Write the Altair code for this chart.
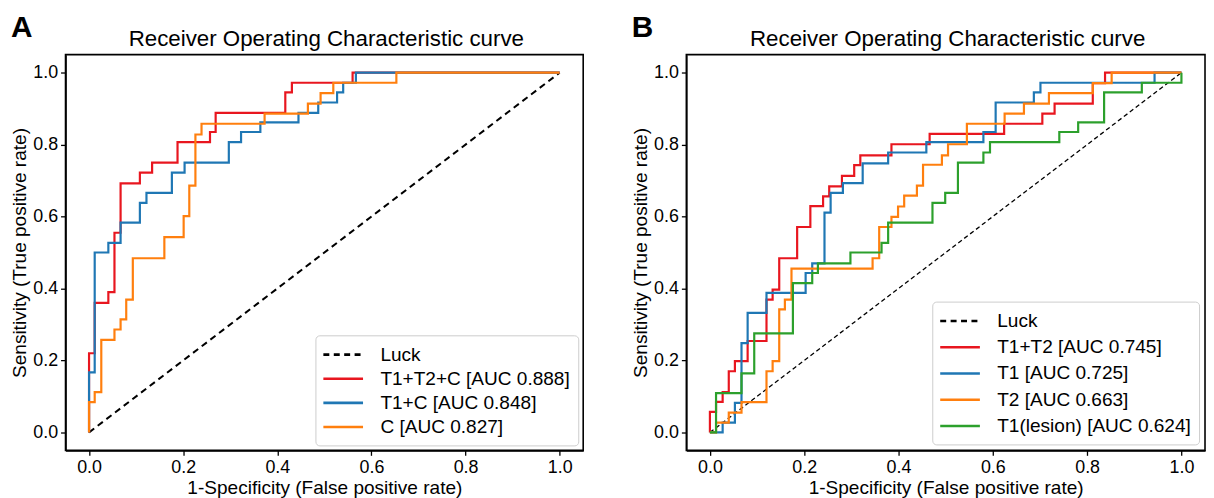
import altair as alt
import pandas as pd

FONT = "Liberation Sans"
TITLE = "Receiver Operating Characteristic curve"
X_TITLE = "1-Specificity (False positive rate)"
Y_TITLE = "Sensitivity (True positive rate)"
TICKS = [0.0, 0.2, 0.4, 0.6, 0.8, 1.0]
LUCK = "Luck"

# ---------------- Panel A ----------------
a_names = ["T1+T2+C [AUC 0.888]", "T1+C [AUC 0.848]", "C [AUC 0.827]"]
a_colors = ["#e8161f", "#1f77b4", "#ff7f0e"]

a_red_fpr = [0, 0, 0.012, 0.012, 0.041, 0.041, 0.054, 0.054, 0.067, 0.067, 0.108, 0.108,
             0.134, 0.134, 0.188, 0.188, 0.257, 0.257, 0.269, 0.269, 0.417, 0.417, 0.431,
             0.431, 0.56, 0.56, 1.0]
a_red_tpr = [0, 0.22, 0.22, 0.36, 0.36, 0.39, 0.39, 0.555, 0.555, 0.692, 0.692, 0.722,
             0.722, 0.75, 0.75, 0.807, 0.807, 0.835, 0.835, 0.888, 0.888, 0.945, 0.945,
             0.972, 0.972, 1.0, 1.0]

a_blue_fpr = [0, 0, 0.012, 0.012, 0.041, 0.041, 0.067, 0.067, 0.108, 0.108, 0.122, 0.122,
              0.176, 0.176, 0.203, 0.203, 0.297, 0.297, 0.323, 0.323, 0.364, 0.364, 0.445,
              0.445, 0.487, 0.487, 0.527, 0.527, 0.54, 0.54, 0.567, 0.567, 1.0]
a_blue_tpr = [0, 0.167, 0.167, 0.5, 0.5, 0.527, 0.527, 0.583, 0.583, 0.638, 0.638, 0.666,
              0.666, 0.722, 0.722, 0.75, 0.75, 0.807, 0.807, 0.835, 0.835, 0.862, 0.862,
              0.888, 0.888, 0.917, 0.917, 0.945, 0.945, 0.972, 0.972, 1.0, 1.0]

a_orange_fpr = [0, 0, 0.012, 0.012, 0.026, 0.026, 0.054, 0.054, 0.067, 0.067, 0.079, 0.079,
                0.093, 0.093, 0.160, 0.160, 0.201, 0.201, 0.213, 0.213, 0.226, 0.226, 0.239,
                0.239, 0.373, 0.373, 0.465, 0.465, 0.492, 0.492, 0.519, 0.519, 0.653, 0.653, 1.0]
a_orange_tpr = [0, 0.084, 0.084, 0.112, 0.112, 0.257, 0.257, 0.286, 0.286, 0.314, 0.314, 0.369,
                0.369, 0.484, 0.484, 0.543, 0.543, 0.601, 0.601, 0.686, 0.686, 0.828, 0.828,
                0.858, 0.858, 0.886, 0.886, 0.914, 0.914, 0.943, 0.943, 0.972, 0.972, 1.0, 1.0]

# ---------------- Panel B ----------------
b_names = ["T1+T2 [AUC 0.745]", "T1 [AUC 0.725]", "T2 [AUC 0.663]", "T1(lesion) [AUC 0.624]"]
b_colors = ["#e8161f", "#1f77b4", "#ff7f0e", "#2ca02c"]

b_red_fpr = [0, 0, 0.013, 0.013, 0.027, 0.027, 0.04, 0.04, 0.053, 0.053, 0.08, 0.08, 0.12, 0.12,
             0.133, 0.133, 0.147, 0.147, 0.185, 0.185, 0.213, 0.213, 0.24, 0.24, 0.253, 0.253,
             0.28, 0.28, 0.306, 0.306, 0.319, 0.319, 0.385, 0.385, 0.466, 0.466, 0.624, 0.624,
             0.705, 0.705, 0.731, 0.731, 0.812, 0.812, 0.838, 0.838, 1.0]
b_red_tpr = [0, 0.057, 0.057, 0.085, 0.085, 0.112, 0.112, 0.17, 0.17, 0.198, 0.198, 0.254, 0.254,
             0.369, 0.369, 0.397, 0.397, 0.484, 0.484, 0.571, 0.571, 0.629, 0.629, 0.656, 0.656,
             0.684, 0.684, 0.713, 0.713, 0.743, 0.743, 0.77, 0.77, 0.801, 0.801, 0.83, 0.83,
             0.858, 0.858, 0.886, 0.886, 0.914, 0.914, 0.971, 0.971, 1.0, 1.0]

b_blue_fpr = [0, 0.027, 0.027, 0.053, 0.053, 0.067, 0.067, 0.08, 0.08, 0.12, 0.12, 0.203, 0.203,
              0.217, 0.217, 0.243, 0.243, 0.256, 0.256, 0.282, 0.282, 0.324, 0.324, 0.378, 0.378,
              0.459, 0.459, 0.58, 0.58, 0.606, 0.606, 0.687, 0.687, 0.701, 0.701, 0.943, 0.943, 1.0]
b_blue_tpr = [0, 0, 0.027, 0.027, 0.082, 0.082, 0.248, 0.248, 0.332, 0.332, 0.388, 0.388, 0.443,
              0.443, 0.47, 0.47, 0.611, 0.611, 0.666, 0.666, 0.693, 0.693, 0.748, 0.748, 0.778,
              0.778, 0.807, 0.807, 0.835, 0.835, 0.917, 0.917, 0.945, 0.945, 0.972, 0.972, 1.0, 1.0]

b_orange_fpr = [0, 0.013, 0.013, 0.04, 0.04, 0.067, 0.067, 0.12, 0.12, 0.133, 0.133, 0.147, 0.147,
                0.159, 0.159, 0.173, 0.173, 0.345, 0.345, 0.359, 0.359, 0.385, 0.385, 0.399, 0.399,
                0.412, 0.412, 0.439, 0.439, 0.452, 0.452, 0.492, 0.492, 0.505, 0.505, 0.545, 0.545,
                0.625, 0.625, 0.666, 0.666, 0.719, 0.719, 0.812, 0.812, 0.852, 0.852, 1.0]
b_orange_tpr = [0, 0, 0.027, 0.027, 0.055, 0.055, 0.084, 0.084, 0.17, 0.17, 0.198, 0.198, 0.342,
                0.342, 0.369, 0.369, 0.455, 0.455, 0.484, 0.484, 0.571, 0.571, 0.599, 0.599, 0.628,
                0.628, 0.658, 0.658, 0.686, 0.686, 0.744, 0.744, 0.77, 0.77, 0.801, 0.801, 0.858,
                0.858, 0.886, 0.886, 0.914, 0.914, 0.943, 0.943, 0.971, 0.971, 1.0, 1.0]

b_green_fpr = [0, 0.013, 0.013, 0.067, 0.067, 0.094, 0.094, 0.176, 0.176, 0.217, 0.217, 0.229,
               0.229, 0.298, 0.298, 0.364, 0.364, 0.378, 0.378, 0.472, 0.472, 0.499, 0.499, 0.526,
               0.526, 0.58, 0.58, 0.594, 0.594, 0.741, 0.741, 0.781, 0.781, 0.836, 0.836, 0.916,
               0.916, 1.0, 1.0]
b_green_tpr = [0, 0, 0.109, 0.109, 0.164, 0.164, 0.275, 0.275, 0.415, 0.415, 0.443, 0.443, 0.47,
               0.47, 0.5, 0.5, 0.527, 0.527, 0.583, 0.583, 0.638, 0.638, 0.666, 0.666, 0.75, 0.75,
               0.778, 0.778, 0.807, 0.807, 0.835, 0.835, 0.862, 0.862, 0.945, 0.945, 0.972, 0.972,
               1.0]

luck_fpr = [0.0, 1.0]
luck_tpr = [0.0, 1.0]


def frame(names, curves):
    rows = []
    for name, (fx, ty) in zip(names, curves):
        for i, (f, t) in enumerate(zip(fx, ty)):
            rows.append({"series": name, "fpr": f, "tpr": t, "idx": i})
    return pd.DataFrame(rows)


def panel(letter, names, colors, curves, luck_width, luck_dash, row_pad, leg_offset, W, H):
    df = frame(names, curves)
    domain = [LUCK] + names
    color_scale = alt.Scale(domain=domain, range=["#000000"] + colors)
    dash_scale = alt.Scale(domain=domain, range=[[6, 4.5]] + [[1, 0]] * len(names))
    legend = alt.Legend(
        title=None, orient="bottom-right", offset=leg_offset, symbolType="M-2,0H2",
        symbolSize=400, symbolStrokeWidth=2.6, symbolOffset=8.5, symbolFillColor="transparent",
        labelFontSize=19.2, labelFont=FONT, labelColor="black", labelOffset=26,
        rowPadding=row_pad, padding=8, strokeColor="#cccccc", cornerRadius=4,
        fillColor="rgba(255,255,255,0.85)", labelLimit=400,
    )
    x = alt.X("fpr:Q", scale=alt.Scale(domain=[-0.05, 1.05], nice=False, zero=False),
              axis=alt.Axis(title=X_TITLE, values=TICKS, format=".1f"))
    y = alt.Y("tpr:Q", scale=alt.Scale(domain=[-0.05, 1.05], nice=False, zero=False),
              axis=alt.Axis(title=Y_TITLE, values=TICKS, format=".1f"))

    luck_df = pd.DataFrame({"fpr": luck_fpr, "tpr": luck_tpr, "idx": [0, 1]})
    luck = alt.Chart(luck_df).mark_line(
        color="black", strokeDash=luck_dash, strokeWidth=luck_width
    ).encode(x=x, y=y, order="idx:Q")

    layers = [luck]
    for n in names:
        layers.append(
            alt.Chart(df).transform_filter(alt.datum.series == n)
            .mark_line(strokeWidth=2.2)
            .encode(
                x=x, y=y, order="idx:Q",
                color=alt.Color("series:N", scale=color_scale, legend=legend),
                strokeDash=alt.StrokeDash("series:N", scale=dash_scale, legend=legend),
            )
        )
    txt_df = pd.DataFrame({"letter": [letter], "title": [TITLE]})
    lab = alt.Chart(txt_df).mark_text(
        font=FONT, fontSize=30, fontWeight="bold", align="left", baseline="alphabetic",
        color="black"
    ).encode(text="letter:N", x=alt.value(-55), y=alt.value(-18))
    ttl = alt.Chart(txt_df).mark_text(
        font=FONT, fontSize=22.5, align="center", baseline="alphabetic", color="black"
    ).encode(text="title:N", x=alt.value(W / 2 + 2), y=alt.value(-9))
    layers += [lab, ttl]
    return alt.layer(*layers).properties(width=W, height=H)


pa = panel("A", a_names, a_colors,
           [(a_red_fpr, a_red_tpr), (a_blue_fpr, a_blue_tpr), (a_orange_fpr, a_orange_tpr)],
           2.0, [6.5, 4.5], 2.3, 5, 522, 399)
pb = panel("B", b_names, b_colors,
           [(b_red_fpr, b_red_tpr), (b_blue_fpr, b_blue_tpr), (b_orange_fpr, b_orange_tpr),
            (b_green_fpr, b_green_tpr)],
           1.3, [4.5, 3], 4.5, 6, 523, 399)

chart = (
    alt.hconcat(pa, pb, spacing=47)
    .resolve_scale(color="independent", strokeDash="independent", x="independent",
                   y="independent")
    .resolve_legend(color="independent", strokeDash="independent")
    .properties(padding={"left": 2, "top": 2, "right": 0, "bottom": 0})
    .configure(font=FONT)
    .configure_view(stroke="black", strokeWidth=1.6)
    .configure_axis(
        grid=False, domainColor="black", domainWidth=1.6, tickColor="black", tickWidth=1.3,
        tickSize=5, labelFont=FONT, labelFontSize=18, labelColor="black", labelPadding=3,
        titleFont=FONT, titleFontSize=19.2, titleFontWeight="normal", titleColor="black",
        titlePadding=3,
    )
)

chart.save("out.html", embed_options={"renderer": "svg", "actions": False})
